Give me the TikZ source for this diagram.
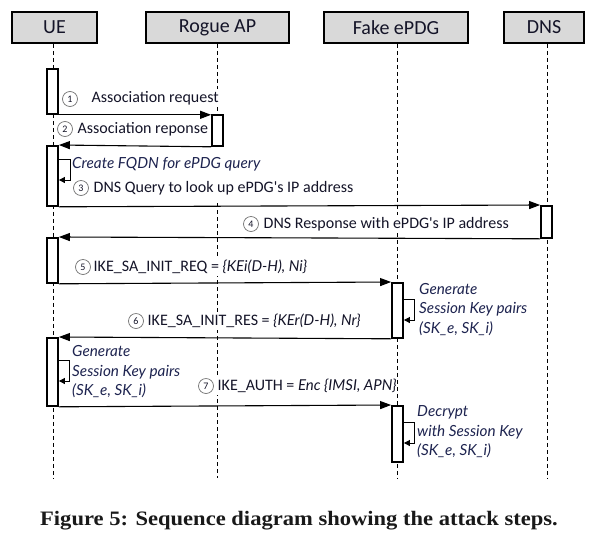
\documentclass[tikz,border=0pt]{standalone}
\usepackage{fontspec}
\setmainfont{Carlito}
\newfontfamily\lato{Lato}
\newfontfamily\capfont{Liberation Serif}[FakeStretch=1.1]
\usetikzlibrary{arrows.meta}
\definecolor{txt}{HTML}{141428}
\definecolor{itc}{HTML}{1E2450}
\definecolor{hdr}{HTML}{D9D9D9}
\newcommand{\itl}[1]{{\lato\itshape\fontsize{15}{18}\selectfont #1}}
\begin{document}
\begin{tikzpicture}[x=1pt,y=-1pt,
 actor/.style={draw=black,line width=1.6pt,fill=hdr,minimum height=31pt,inner sep=0pt,font=\fontsize{20}{24}\selectfont,text=txt},
 life/.style={line width=0.8pt,dash pattern=on 4pt off 3pt},
 actbox/.style={draw=black,line width=1.8pt,fill=white,minimum width=11pt,inner sep=0pt,anchor=north},
 msg/.style={line width=1.1pt,-{Triangle[length=11pt,width=8pt]}},
 selfmsg/.style={line width=0.8pt,-{Triangle[length=6pt,width=6pt]}},
 num/.style={circle,draw=black!55,line width=0.7pt,minimum size=15pt,inner sep=0pt,font=\fontsize{10}{11}\selectfont,text=txt},
 lbl/.style={anchor=west,fill=white,inner xsep=0.5pt,inner ysep=2pt,font=\fontsize{16}{19}\selectfont,text=txt},
 note/.style={anchor=west,inner sep=0pt,font=\lato\itshape\fontsize{15.3}{19.5}\selectfont,text=itc,align=left},
]
\useasboundingbox[fill=white] (0,0) rectangle (596,541);

% actors
\node[actor,minimum width=85pt] (ue) at (54.5,27.5) {UE};
\node[actor,minimum width=143pt] (ap) at (217.5,27.5) {Rogue AP};
\node[actor,minimum width=144pt] (epdg) at (396,27.5) {Fake ePDG};
\node[actor,minimum width=80pt] (dns) at (544,27.5) {DNS};

% lifelines
\coordinate (ueEnd) at (53,478);
\coordinate (apEnd) at (217,478);
\coordinate (apAct) at (217,114);
\coordinate (apRes) at (217,203);
\coordinate (epEnd) at (397,478);
\coordinate (dnsEnd) at (547,478);
\draw[life] (ue.south -| ueEnd) -- (ueEnd);
\draw[life] (ap.south -| apEnd) -- (apAct);
\draw[life] (apRes) -- (apEnd);
\draw[life] (epdg.south -| epEnd) -- (epEnd);
\draw[life] (dns.south -| dnsEnd) -- (dnsEnd);

% activation boxes
\node[actbox,minimum height=45pt] (u1) at (52.5,68) {};
\node[actbox,minimum height=31pt] (a1) at (217.5,114) {};
\node[actbox,minimum height=60pt] (u2) at (52.5,145) {};
\node[actbox,minimum height=32pt] (d1) at (546.5,205) {};
\node[actbox,minimum height=45pt] (u3) at (52.5,237) {};
\node[actbox,minimum height=55pt] (e1) at (397.5,282) {};
\node[actbox,minimum height=68pt] (u4) at (52.5,337) {};
\node[actbox,minimum height=56pt] (e2) at (397.5,405) {};

% messages
\draw[msg] (u1.south east) -- (u1.south east -| a1.west);
\draw[msg] (a1.south west) -- (u2.north east);
\draw[msg] (u2.south east) -- (d1.north west);
\draw[msg] (d1.south west) -- (u3.north east);
\draw[msg] (u3.south east) -- (e1.north west);
\draw[msg] (e1.south west) -- (u4.north east);
\draw[msg] (u4.south east) -- (e2.north west);

% self messages
\draw[selfmsg] ([yshift=-14pt]u2.north east) -- ++(11,0) -- ++(0,21) -- ++(-11,0);
\draw[selfmsg] ([yshift=-17pt]e1.north east) -- ++(10,0) -- ++(0,21) -- ++(-10,0);
\draw[selfmsg] ([yshift=-23pt]u4.north east) -- ++(10,0) -- ++(0,21) -- ++(-10,0);
\draw[selfmsg] ([yshift=-17pt]e2.north east) -- ++(10,0) -- ++(0,21) -- ++(-10,0);

% labels
\node[lbl] (l1) at (91,98) {Association request};
\node[num] (n1) at (70,99) {1};
\node[lbl] (l2) at (77,129) {Association reponse};
\node[num] (n2) at (65,129) {2};
\node[note] (f1) at (72,164) {Create FQDN for ePDG query};
\node[lbl] (l3) at (93,188) {DNS Query to look up ePDG\textquotesingle s IP address};
\node[num] (n3) at (81,188) {3};
\node[lbl] (l4) at (263,224) {DNS Response with ePDG\textquotesingle s IP address};
\node[num] (n4) at (251,224) {4};
\node[lbl] (l5) at (93,267) {IKE\_SA\_INIT\_REQ = \itl{\{KEi(D-H), Ni\}}};
\node[num] (n5) at (83,267) {5};
\node[note] (g1) at (419,309.5) {Generate\\Session Key pairs\\(SK\_e, SK\_i)};
\node[lbl] (l6) at (147,321) {IKE\_SA\_INIT\_RES = \itl{\{KEr(D-H), Nr\}}};
\node[num] (n6) at (136,321) {6};
\node[note] (g2) at (72,372) {Generate\\Session Key pairs\\(SK\_e, SK\_i)};
\node[lbl] (l7) at (217,386) {IKE\_AUTH = \itl{Enc \{IMSI, APN\}}};
\node[num] (n7) at (206,386) {7};
\node[note] (g3) at (417,432) {Decrypt\\with Session Key\\(SK\_e, SK\_i)};

% caption
\node[font=\capfont\bfseries\fontsize{20.5}{24}\selectfont,text=black!90] (cap) at (299,521) {Figure 5: Sequence diagram showing the attack steps.};
\end{tikzpicture}
\end{document}
